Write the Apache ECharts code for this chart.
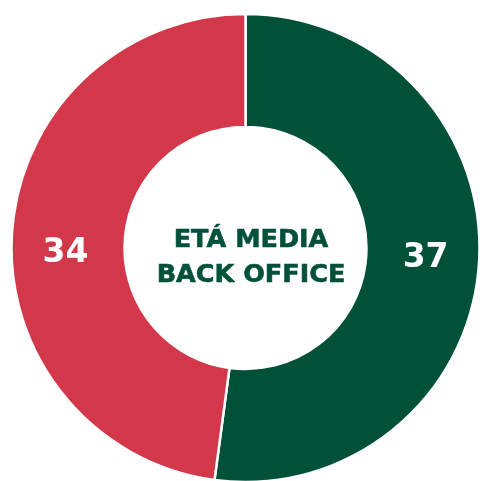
<!DOCTYPE html>
<html>
<head>
<meta charset="utf-8">
<script src="https://cdn.jsdelivr.net/npm/echarts@6/dist/echarts.min.js"></script>
<style>
  html, body { margin: 0; padding: 0; background: #fff; }
  #main { width: 480px; height: 481px; }
</style>
</head>
<body>
<div id="main"></div>
<script>
var categories = ["Over media", "Under media"];
var values = [37, 34];
var colors = ["#00503A", "#D2384A"];
var centerText = "ETÁ MEDIA\nBACK OFFICE";

window.onload = function () {
    var myChart = echarts.init(document.getElementById("main"));
    // small nudges so the numbers sit where the original put them
    var labelOffsets = [[0, -2], [0, 17]];
    var data = values.map(function (v, i) {
        return {
            name: categories[i],
            value: v,
            itemStyle: { color: colors[i] },
            label: { offset: labelOffsets[i] }
        };
    });
    var option = {
        animation: false,
        graphic: [{
            type: "text",
            x: 251,
            y: 258,
            style: {
                text: centerText,
                x: 0, y: 0,
                align: "center",
                verticalAlign: "middle",
                fill: "#00503A",
                font: "bold 25.5px 'DejaVu Sans'",
                lineHeight: 35,
                stroke: "#00503A",
                lineWidth: 0.6
            }
        }],
        series: [{
            type: "pie",
            center: [245.5, 248],
            radius: [121, 234],
            startAngle: 90,
            clockwise: true,
            itemStyle: { borderColor: "#fff", borderWidth: 2.5 },
            label: {
                show: true,
                position: "inside",
                formatter: "{c}",
                color: "#fff",
                fontFamily: "DejaVu Sans",
                fontWeight: "bold",
                fontSize: 33
            },
            labelLine: { show: false },
            emphasis: { disabled: true },
            data: data
        }]
    };
    myChart.setOption(option);
};
</script>
</body>
</html>
